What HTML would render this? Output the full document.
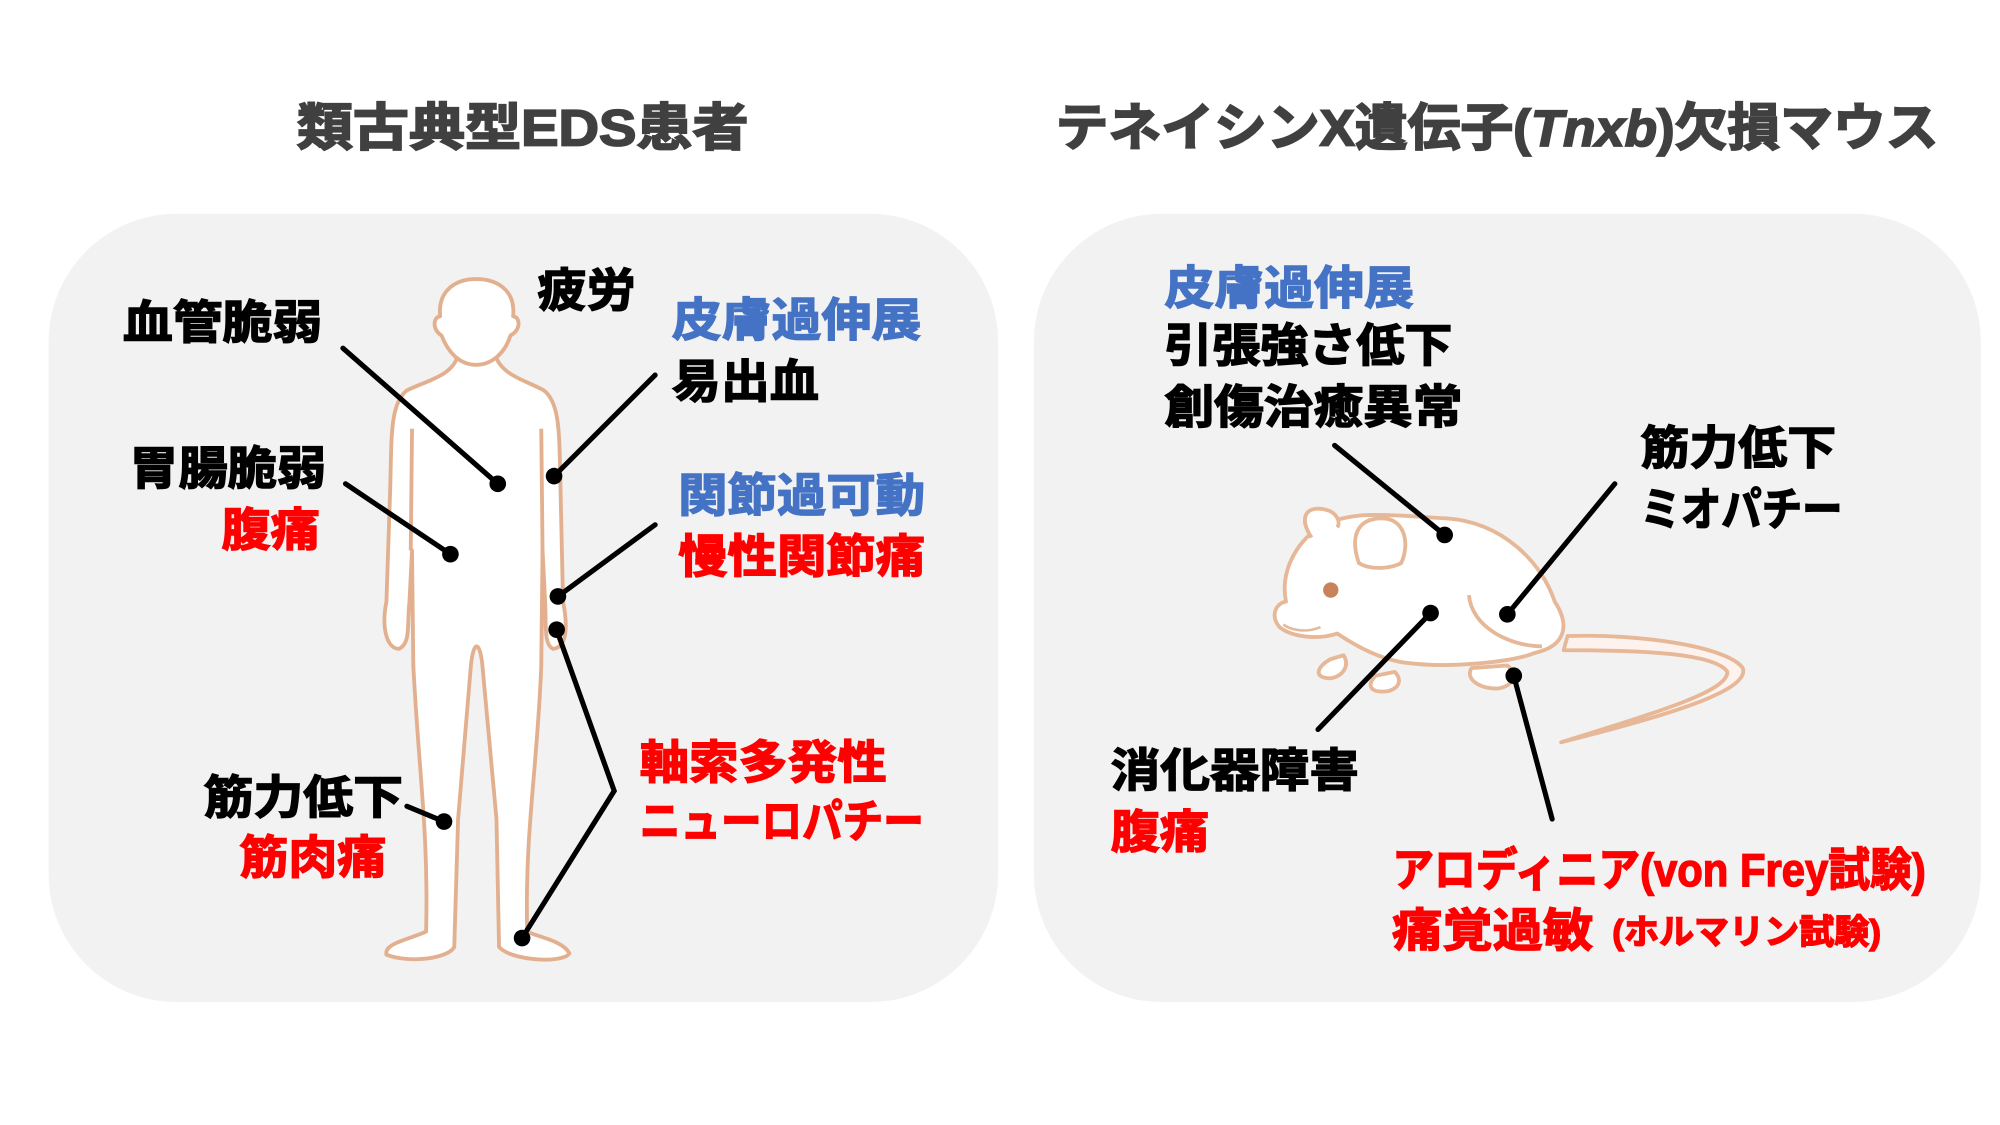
<!DOCTYPE html>
<html><head><meta charset="utf-8"><style>
html,body{margin:0;padding:0;background:#fff;}
svg{display:block;}
text{font-family:"Liberation Sans","Noto Sans CJK JP",sans-serif;font-weight:700;dominant-baseline:central;fill:#000;stroke:#000;stroke-width:1.1px;}
text.r{fill:#ff0000;stroke:#ff0000;}
text.b{fill:#4472c4;stroke:#4472c4;}
text.t{fill:#404040;stroke:#404040;stroke-width:1.4px;}
</style></head><body>
<svg width="2000" height="1125" viewBox="0 0 1563 879" xmlns="http://www.w3.org/2000/svg">
<rect width="1563" height="879" fill="#fff"/>
<rect x="38" y="167" width="742" height="616" rx="100" fill="#f2f2f2"/>
<rect x="808" y="167" width="740" height="616" rx="100" fill="#f2f2f2"/>

<text class="t" x="232" y="100" font-size="40" textLength="353" lengthAdjust="spacingAndGlyphs">類古典型EDS患者</text>
<text class="t" x="825" y="100" font-size="40" textLength="690" lengthAdjust="spacingAndGlyphs">テネイシンX遺伝子(<tspan font-style="italic">Tnxb</tspan>)欠損マウス</text>

<!-- Human figure -->
<g fill="#fff" stroke="#e2b08e" stroke-width="3" stroke-linejoin="round">
<path d="M357,280 C352,294 332,298 318,305 C305,315 306,340 305,380 L302,470 C298,490 302,507 312,507 C321,502 318,490 320,470 L322,430 L323,520 C327,600 335,650 333,728 C320,734 300,737 302,746 C320,753 350,749 355,740 L358,640 L368,520 C370,500 375,500 377,520 L388,640 L390,740 C400,751 440,753 445,745 C440,735 420,732 412,728 C410,650 420,600 423,520 L424,430 L426,470 C427,490 425,503 432,507 C443,506 444,490 440,470 L438,380 C437,340 438,315 425,305 C413,298 394,294 388,280 Z"/>
<path d="M345,262 C338,258 338,248 344,247 C342,228 355,218 372,218 C390,218 403,228 401,247 C407,248 407,258 399,262 C395,275 385,285 372,285 C359,285 350,275 345,262 Z"/>
</g>
<g fill="none" stroke="#e2b08e" stroke-width="3">
<path d="M322,335 L321,430"/><path d="M423,335 L424,430"/>
</g>

<!-- Mouse -->
<g stroke="#e6b898" stroke-width="3" stroke-linejoin="round">
<path d="M1225,497 C1280,495 1350,505 1362,522 C1368,540 1300,560 1220,580 C1300,555 1350,540 1350,525 C1340,510 1280,508 1222,508 Z" fill="#fdf2ee"/>
<path d="M1005,470 C1000,445 1015,420 1035,410 C1060,398 1090,403 1130,405 C1175,408 1205,440 1215,470 C1228,490 1222,505 1200,510 C1180,518 1130,522 1100,518 C1080,516 1060,505 1045,495 C1030,500 1010,498 1000,490 C993,482 996,472 1005,470 Z" fill="#fff"/>
<path d="M1025,420 C1015,405 1020,395 1035,398 C1045,400 1048,408 1045,412" fill="#fff"/>
<path d="M1062,440 C1055,420 1060,405 1080,405 C1098,405 1102,425 1095,440 C1085,445 1070,445 1062,440 Z" fill="#fff"/>
<path d="M1040,515 C1030,520 1025,530 1040,530 C1050,528 1055,520 1050,512 Z" fill="#fff"/>
<path d="M1075,528 C1068,535 1070,542 1085,540 C1095,537 1095,530 1090,525 Z" fill="#fff"/>
<path d="M1150,522 C1145,530 1155,538 1170,538 C1185,536 1185,525 1178,520 Z" fill="#fff"/>
<path d="M1148,465 C1150,490 1180,505 1205,505" fill="none"/>
</g>
<circle cx="1040" cy="461" r="6" fill="#c8835a"/>
<path d="M1003,488 C1008,492 1020,495 1032,490" stroke="#e6b898" stroke-width="2" fill="none"/>

<!-- connectors -->
<g stroke="#000" stroke-width="4" fill="none" stroke-linecap="round">
<path d="M268,272 L389,378"/><path d="M512,293 L433,372"/><path d="M270,378 L352,433"/>
<path d="M512,410 L436,466"/><path d="M435,492 L480,618 L408,733"/><path d="M318,630 L347,642"/>
<path d="M1043,348 L1129,418"/><path d="M1262,378 L1178,480"/><path d="M1030,570 L1118,479"/><path d="M1213,640 L1183,528"/>
</g>
<g fill="#000">
<circle cx="389" cy="378" r="6.5"/><circle cx="433" cy="372" r="6.5"/><circle cx="352" cy="433" r="6.5"/>
<circle cx="436" cy="466" r="6.5"/><circle cx="435" cy="492" r="6.5"/><circle cx="408" cy="733" r="6.5"/><circle cx="347" cy="642" r="6.5"/>
<circle cx="1129" cy="418" r="6.5"/><circle cx="1178" cy="480" r="6.5"/><circle cx="1118" cy="479" r="6.5"/><circle cx="1183" cy="528" r="6.5"/>
</g>

<g font-size="36">
<text x="420" y="227" textLength="77" lengthAdjust="spacingAndGlyphs">疲労</text>
<text x="96" y="252" textLength="156" lengthAdjust="spacingAndGlyphs">血管脆弱</text>
<text class="b" x="525" y="250" textLength="195" lengthAdjust="spacingAndGlyphs">皮膚過伸展</text>
<text x="525" y="298" textLength="115" lengthAdjust="spacingAndGlyphs">易出血</text>
<text x="101" y="366" textLength="154" lengthAdjust="spacingAndGlyphs">胃腸脆弱</text>
<text class="r" x="173" y="414" textLength="77" lengthAdjust="spacingAndGlyphs">腹痛</text>
<text class="b" x="530" y="387" textLength="193" lengthAdjust="spacingAndGlyphs">関節過可動</text>
<text class="r" x="530" y="435" textLength="193" lengthAdjust="spacingAndGlyphs">慢性関節痛</text>
<text class="r" x="500" y="596" textLength="193" lengthAdjust="spacingAndGlyphs">軸索多発性</text>
<text class="r" x="500" y="642" textLength="222" lengthAdjust="spacingAndGlyphs">ニューロパチー</text>
<text x="159" y="623" textLength="156" lengthAdjust="spacingAndGlyphs">筋力低下</text>
<text class="r" x="187" y="670" textLength="115" lengthAdjust="spacingAndGlyphs">筋肉痛</text>
<text class="b" x="910" y="225" textLength="195" lengthAdjust="spacingAndGlyphs">皮膚過伸展</text>
<text x="910" y="270" textLength="225" lengthAdjust="spacingAndGlyphs">引張強さ低下</text>
<text x="910" y="318" textLength="233" lengthAdjust="spacingAndGlyphs">創傷治癒異常</text>
<text x="1282" y="350" textLength="153" lengthAdjust="spacingAndGlyphs">筋力低下</text>
<text x="1282" y="398" textLength="158" lengthAdjust="spacingAndGlyphs">ミオパチー</text>
<text x="868" y="602" textLength="194" lengthAdjust="spacingAndGlyphs">消化器障害</text>
<text class="r" x="868" y="650" textLength="77" lengthAdjust="spacingAndGlyphs">腹痛</text>
<text class="r" x="1088" y="680" textLength="417" lengthAdjust="spacingAndGlyphs">アロディニア(von Frey試験)</text>
<text class="r" x="1088" y="727" textLength="157" lengthAdjust="spacingAndGlyphs">痛覚過敏</text>
<text class="r" x="1260" y="729" font-size="27" textLength="210" lengthAdjust="spacingAndGlyphs">(ホルマリン試験)</text>
</g>
</svg>
</body></html>
